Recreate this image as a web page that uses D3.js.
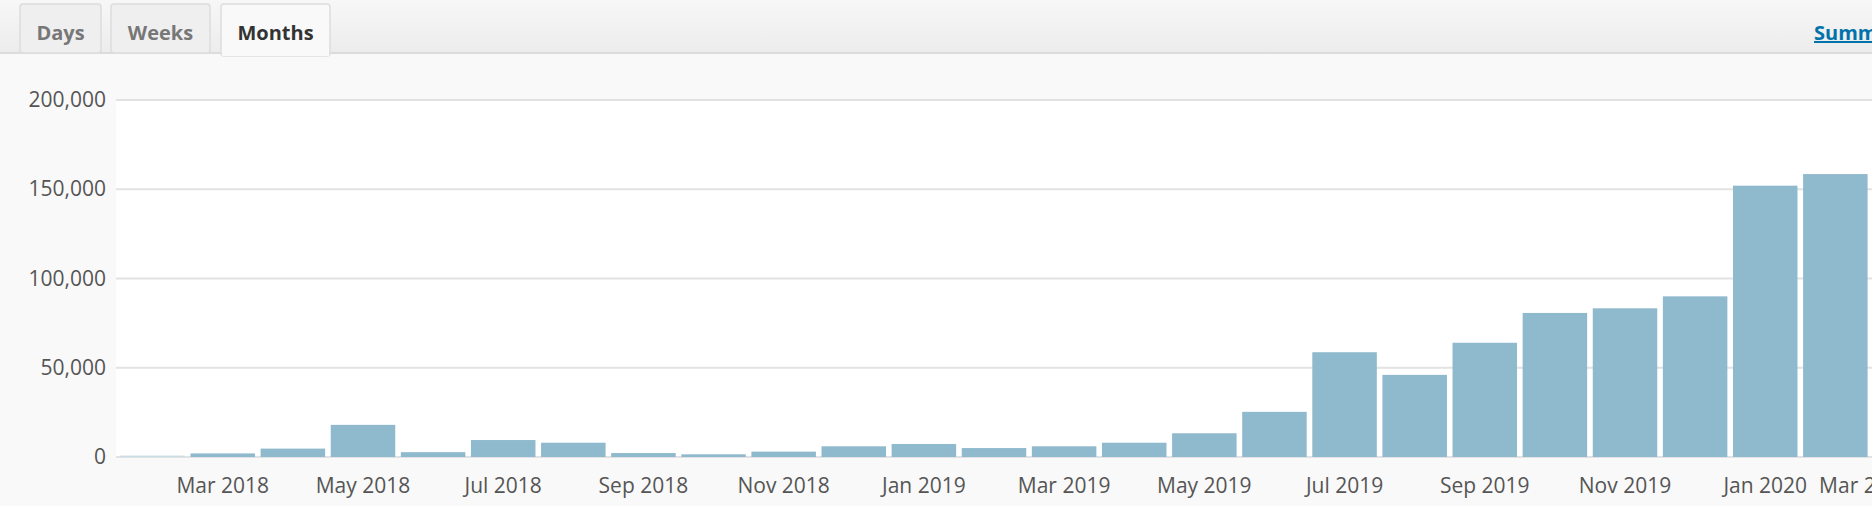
<!DOCTYPE html>
<html>
<head>
<meta charset="utf-8">
<script src="https://cdn.jsdelivr.net/npm/d3@7"></script>
<style>
  body { margin: 0; background: #f9f9f9; overflow: hidden; }
  svg { display: block; font-family: "Open Sans", "Noto Sans", sans-serif; }
</style>
</head>
<body>
<svg id="chart" width="1872" height="506"></svg>
<script>
var months = ["2018-02","2018-03","2018-04","2018-05","2018-06","2018-07","2018-08","2018-09","2018-10","2018-11","2018-12",
  "2019-01","2019-02","2019-03","2019-04","2019-05","2019-06","2019-07","2019-08","2019-09","2019-10","2019-11","2019-12",
  "2020-01","2020-02"]
var visits = [800, 2000, 4700, 18000, 2700, 9500, 8000, 2200, 1500, 3000, 6000,
  7300, 5000, 6000, 8000, 13300, 25300, 58700, 46000, 64000, 80700, 83300, 90000,
  152000, 158500]
var yTicks = [0, 50000, 100000, 150000, 200000]
var tabs = ["Days", "Weeks", "Months"]
var activeTab = "Months"

var svg = d3.select("#chart")
var W = 1872, H = 506
var margin = {top: 100, left: 116, bottom: 457}

// header bar
var defs = svg.append("defs")
var grad = defs.append("linearGradient").attr("id", "hdr").attr("x1", 0).attr("x2", 0).attr("y1", 0).attr("y2", 1)
grad.append("stop").attr("offset", "0%").attr("stop-color", "#f7f7f7")
grad.append("stop").attr("offset", "100%").attr("stop-color", "#ececec")
svg.append("rect").attr("x", 0).attr("y", 0).attr("width", W).attr("height", 53).attr("fill", "url(#hdr)")
svg.append("line").attr("x1", 0).attr("x2", W).attr("y1", 53).attr("y2", 53).attr("stroke", "#dcdcdc").attr("stroke-width", 2)

var tabX = [20, 111, 221], tabW = [81, 99, 109]
tabs.forEach(function(t, i) {
  var active = t == activeTab
  svg.append("rect")
    .attr("x", tabX[i]).attr("y", 4).attr("width", tabW[i]).attr("height", active ? 52 : 49)
    .attr("rx", 3).attr("fill", active ? "#f9f9f9" : "#efefef")
    .attr("stroke", "#dddddd").attr("stroke-width", 1.5)
  svg.append("text")
    .attr("x", tabX[i] + tabW[i] / 2).attr("y", 40)
    .attr("text-anchor", "middle").attr("font-size", 20).attr("font-weight", 700)
    .attr("fill", active ? "#333" : "#777").text(t)
})
svg.append("rect").attr("x", 222).attr("y", 50).attr("width", 107).attr("height", 6).attr("fill", "#f9f9f9")
svg.append("text").attr("x", 1814).attr("y", 40).attr("font-size", 20).attr("font-weight", 700)
  .attr("fill", "#0073aa").attr("text-decoration", "underline").text("Summary")

// plot
var yScale = d3.scaleLinear().domain([0, 200000]).range([margin.bottom, margin.top])
var xScale = d3.scaleBand().domain(months).range([119, 119 + months.length * 70]).paddingInner(0.08).paddingOuter(0.02)

svg.append("rect").attr("x", margin.left).attr("y", margin.top).attr("width", W - margin.left)
  .attr("height", margin.bottom - margin.top).attr("fill", "#fff")

svg.append("g").selectAll("line").data(yTicks).enter().append("line")
  .attr("x1", margin.left).attr("x2", W)
  .attr("y1", d => yScale(d)).attr("y2", d => yScale(d))
  .attr("stroke", "#e2e2e2").attr("stroke-width", 2)

var fmt = d3.format(",")
svg.append("g").selectAll("text").data(yTicks).enter().append("text")
  .attr("x", 106).attr("y", d => yScale(d) + 7)
  .attr("text-anchor", "end").attr("font-size", 21).attr("fill", "#555")
  .text(d => fmt(d))

svg.append("g").selectAll("rect").data(months).enter().append("rect")
  .attr("x", d => xScale(d)).attr("width", xScale.bandwidth())
  .attr("y", (d, i) => yScale(visits[i])).attr("height", (d, i) => yScale(0) - yScale(visits[i]))
  .attr("fill", (d, i) => i == 0 ? "#c9dde6" : "#8fb9cc")

// x labels every 2 months, starting Mar 2018
var parse = d3.timeParse("%Y-%m"), lab = d3.timeFormat("%b %Y")
var labelMonths = months.filter((d, i) => i % 2 == 1)
svg.append("g").selectAll("text").data(labelMonths).enter().append("text")
  .attr("x", d => xScale(d) + xScale.bandwidth() / 2).attr("y", 493)
  .attr("text-anchor", "middle").attr("font-size", 21).attr("fill", "#555")
  .text(d => lab(parse(d)))
// trailing label cut at the edge
svg.append("text").attr("x", xScale("2020-02") + 16).attr("y", 493)
  .attr("font-size", 21).attr("fill", "#555").text("Mar 2020")
</script>
</body>
</html>
